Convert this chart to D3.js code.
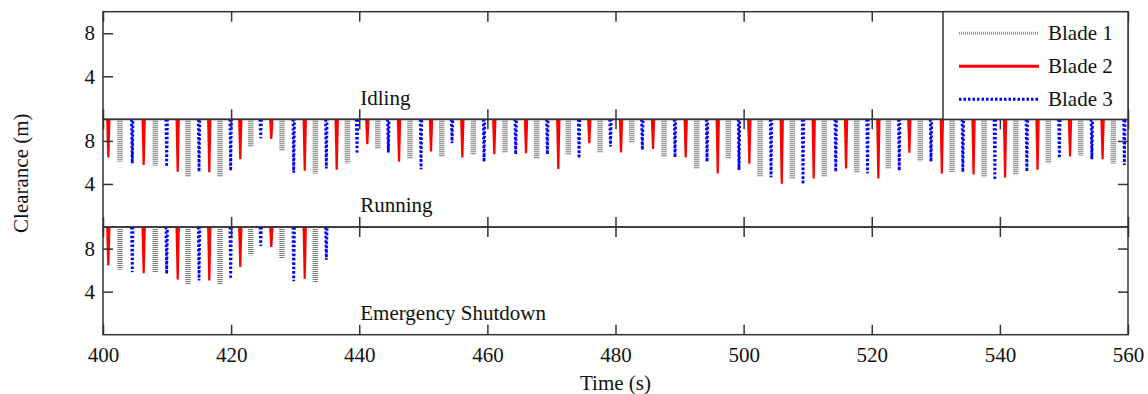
<!DOCTYPE html>
<html>
<head>
<meta charset="utf-8">
<script src="https://cdn.jsdelivr.net/npm/d3@7/dist/d3.min.js"></script>
<style>
body{margin:0;background:#fff;}
svg text{font-family:"Liberation Serif","Times New Roman",serif;font-size:21px;fill:#111;}
</style>
</head>
<body>
<svg></svg>
<script>
// times of each blade passing the tower (s) and the clearance there (m)
var blade1Time = [402.65,408.16,413.27,418.26,423.06,427.94,433.14,438.14,442.88,447.92,452.87,457.81,462.75,467.70,472.64,477.58,
                  482.53,487.57,492.68,497.61,502.56,507.60,512.58,517.66,522.59,527.57,532.53,537.53,542.49,547.56,552.62,557.71];
var blade1Run  = [6.07,5.70,4.70,4.67,7.41,7.13,4.95,5.89,7.23,6.39,6.48,6.70,6.95,6.39,6.70,6.95,
                  7.88,6.48,5.36,6.29,4.68,4.45,4.62,5.08,5.46,6.08,5.12,4.60,4.87,5.91,6.61,5.87];

var blade2Time = [400.83,406.35,411.66,416.59,421.43,426.27,431.49,436.48,441.26,446.21,451.20,456.09,461.08,466.03,471.07,475.91,
                  480.86,485.86,490.96,495.96,500.89,505.95,510.94,515.99,521.03,525.87,530.94,535.89,540.81,545.88,550.95,556.03];
var blade2Run  = [6.45,5.76,5.14,5.08,6.29,8.19,5.23,5.33,7.69,6.07,7.01,6.45,6.76,6.85,5.39,7.79,
                  6.92,7.26,6.45,4.98,5.88,4.02,4.52,5.43,4.52,6.90,4.96,4.87,4.60,5.33,6.55,6.31];

var blade3Time = [404.57,409.94,414.99,419.93,424.62,429.77,434.86,439.65,444.54,449.64,454.48,459.48,464.42,469.36,474.31,479.22,
                  484.19,489.29,494.29,499.28,504.28,509.27,514.38,519.34,524.29,529.25,534.22,539.21,544.21,549.28,554.36,559.43];
var blade3Run  = [5.92,5.61,5.14,5.23,8.26,5.05,5.45,6.82,6.92,5.36,7.79,6.07,6.76,6.76,6.39,7.48,
                  7.17,6.48,6.07,5.30,4.62,3.98,5.14,5.00,5.24,6.08,5.12,4.37,5.15,6.40,6.30,5.77];

// emergency shutdown: only the first passes reach below 10 m
var blade1SdTime = [402.65,408.16,413.27,418.26,423.06,427.94,433.14];
var blade1Sd     = [6.03,5.72,4.66,4.63,7.37,7.12,4.88];
var blade2SdTime = [400.83,406.35,411.66,416.59,421.43,426.27,431.49];
var blade2Sd     = [6.44,5.72,5.12,5.03,6.28,8.16,5.19];
var blade3SdTime = [404.57,409.94,414.99,419.93,424.62,429.77,434.86];
var blade3Sd     = [5.81,5.66,5.03,5.19,8.25,4.97,6.97];

var panelNames = ["Idling","Running","Emergency Shutdown"];
var bladeNames = ["Blade 1","Blade 2","Blade 3"];
var xTicks = [400,420,440,460,480,500,520,540,560];
var yTicks = [4,8];

var screen = {width:1148, height:394};
var margins = {top:11.7, left:103, right:20, bottom:59.3};
var width = screen.width - margins.left - margins.right;
var panelH = (screen.height - margins.top - margins.bottom)/3;

var svg = d3.select("svg")
            .attr("width",screen.width)
            .attr("height",screen.height);

var xScale = d3.scaleLinear().domain([400,560]).range([0,width]);
var yScale = d3.scaleLinear().domain([0,10]).range([panelH,0]);

var styles = {
  "Blade 1":{color:"#7a7a7a", w:5.5, dash:"1,1", half:0},
  "Blade 2":{color:"#ff0000", w:2.2, dash:null, half:0.17},
  "Blade 3":{color:"#0000ff", w:2.8, dash:"2.4,2", half:0.12}
};

var zip = function(ts,vs){ return ts.map(function(t,i){ return {t:t, v:vs[i]}; }); };

var panelData = [
  [],
  [ {blade:"Blade 1", pts:zip(blade1Time,blade1Run)},
    {blade:"Blade 2", pts:zip(blade2Time,blade2Run)},
    {blade:"Blade 3", pts:zip(blade3Time,blade3Run)} ],
  [ {blade:"Blade 1", pts:zip(blade1SdTime,blade1Sd)},
    {blade:"Blade 2", pts:zip(blade2SdTime,blade2Sd)},
    {blade:"Blade 3", pts:zip(blade3SdTime,blade3Sd)} ]
];

var spikeLine = d3.line()
                  .x(function(d){ return xScale(d.t); })
                  .y(function(d){ return yScale(d.v); });

var spike = function(d,half)
{
  if (half == 0) return spikeLine([{t:d.t, v:10},{t:d.t, v:d.v}]);
  return spikeLine([{t:d.t-half, v:10},{t:d.t, v:d.v},{t:d.t+half, v:10}]);
};

panelNames.forEach(function(name,p)
{
  var plot = svg.append("g")
                .classed("panel",true)
                .attr("transform","translate("+margins.left+","+(margins.top+p*panelH)+")");

  panelData[p].forEach(function(series)
  {
    var st = styles[series.blade];
    plot.append("g")
        .selectAll("path")
        .data(series.pts)
        .enter()
        .append("path")
        .attr("d",function(d){ return spike(d,st.half); })
        .attr("fill","none")
        .attr("stroke",st.color)
        .attr("stroke-width",st.w)
        .attr("stroke-dasharray",st.dash);
  });

  plot.append("text")
      .attr("x",xScale(440)+1)
      .attr("y",yScale(1.35))
      .text(name);

  // inward ticks on all four sides
  var left = plot.append("g").call(d3.axisLeft(yScale).tickValues(yTicks).tickSize(-10).tickPadding(8));
  var right = plot.append("g").attr("transform","translate("+width+",0)")
                  .call(d3.axisRight(yScale).tickValues(yTicks).tickSize(-10).tickFormat(""));
  var top = plot.append("g").call(d3.axisTop(xScale).tickValues(xTicks).tickSize(-10).tickFormat(""));
  var bottom = plot.append("g").attr("transform","translate(0,"+panelH+")")
                   .call(d3.axisBottom(xScale).tickValues(xTicks).tickSize(-10).tickPadding(12)
                         .tickFormat(p==2 ? d3.format("d") : ""));

  [left,right,top,bottom].forEach(function(a)
  {
    a.attr("font-family",null).attr("font-size",null);
    a.select(".domain").remove();
    a.selectAll("line").attr("stroke","#333").attr("stroke-width",1.5);
    a.selectAll("text").attr("fill","#111");
  });

  plot.append("rect")
      .attr("width",width)
      .attr("height",panelH)
      .attr("fill","none")
      .attr("stroke","#333")
      .attr("stroke-width",1.5);
});

// legend
var legend = svg.append("g")
                .classed("legend",true)
                .attr("transform","translate("+(margins.left+width-185)+","+margins.top+")");

legend.append("rect")
      .attr("width",185)
      .attr("height",panelH)
      .attr("fill","#fff")
      .attr("stroke","#333")
      .attr("stroke-width",1.5);

var legendLines = legend.selectAll("g")
                        .data(bladeNames)
                        .enter()
                        .append("g")
                        .attr("transform",function(d,i){ return "translate(0,"+(21.5+i*33)+")"; });

legendLines.append("line")
           .attr("x1",16)
           .attr("x2",96)
           .attr("stroke",function(d){ return d=="Blade 1" ? "#999" : styles[d].color; })
           .attr("stroke-width",3)
           .attr("stroke-dasharray",function(d){ return d=="Blade 1" ? "1,1" : (d=="Blade 3" ? "2.5,2" : null); });

legendLines.append("text")
           .attr("x",105)
           .attr("y",7)
           .text(function(d){ return d; });

svg.append("text")
   .attr("x",margins.left+width/2)
   .attr("y",390)
   .attr("text-anchor","middle")
   .text("Time (s)");

svg.append("text")
   .attr("transform","translate(28,"+(margins.top+1.5*panelH)+") rotate(-90)")
   .attr("text-anchor","middle")
   .text("Clearance (m)");
</script>
</body>
</html>
